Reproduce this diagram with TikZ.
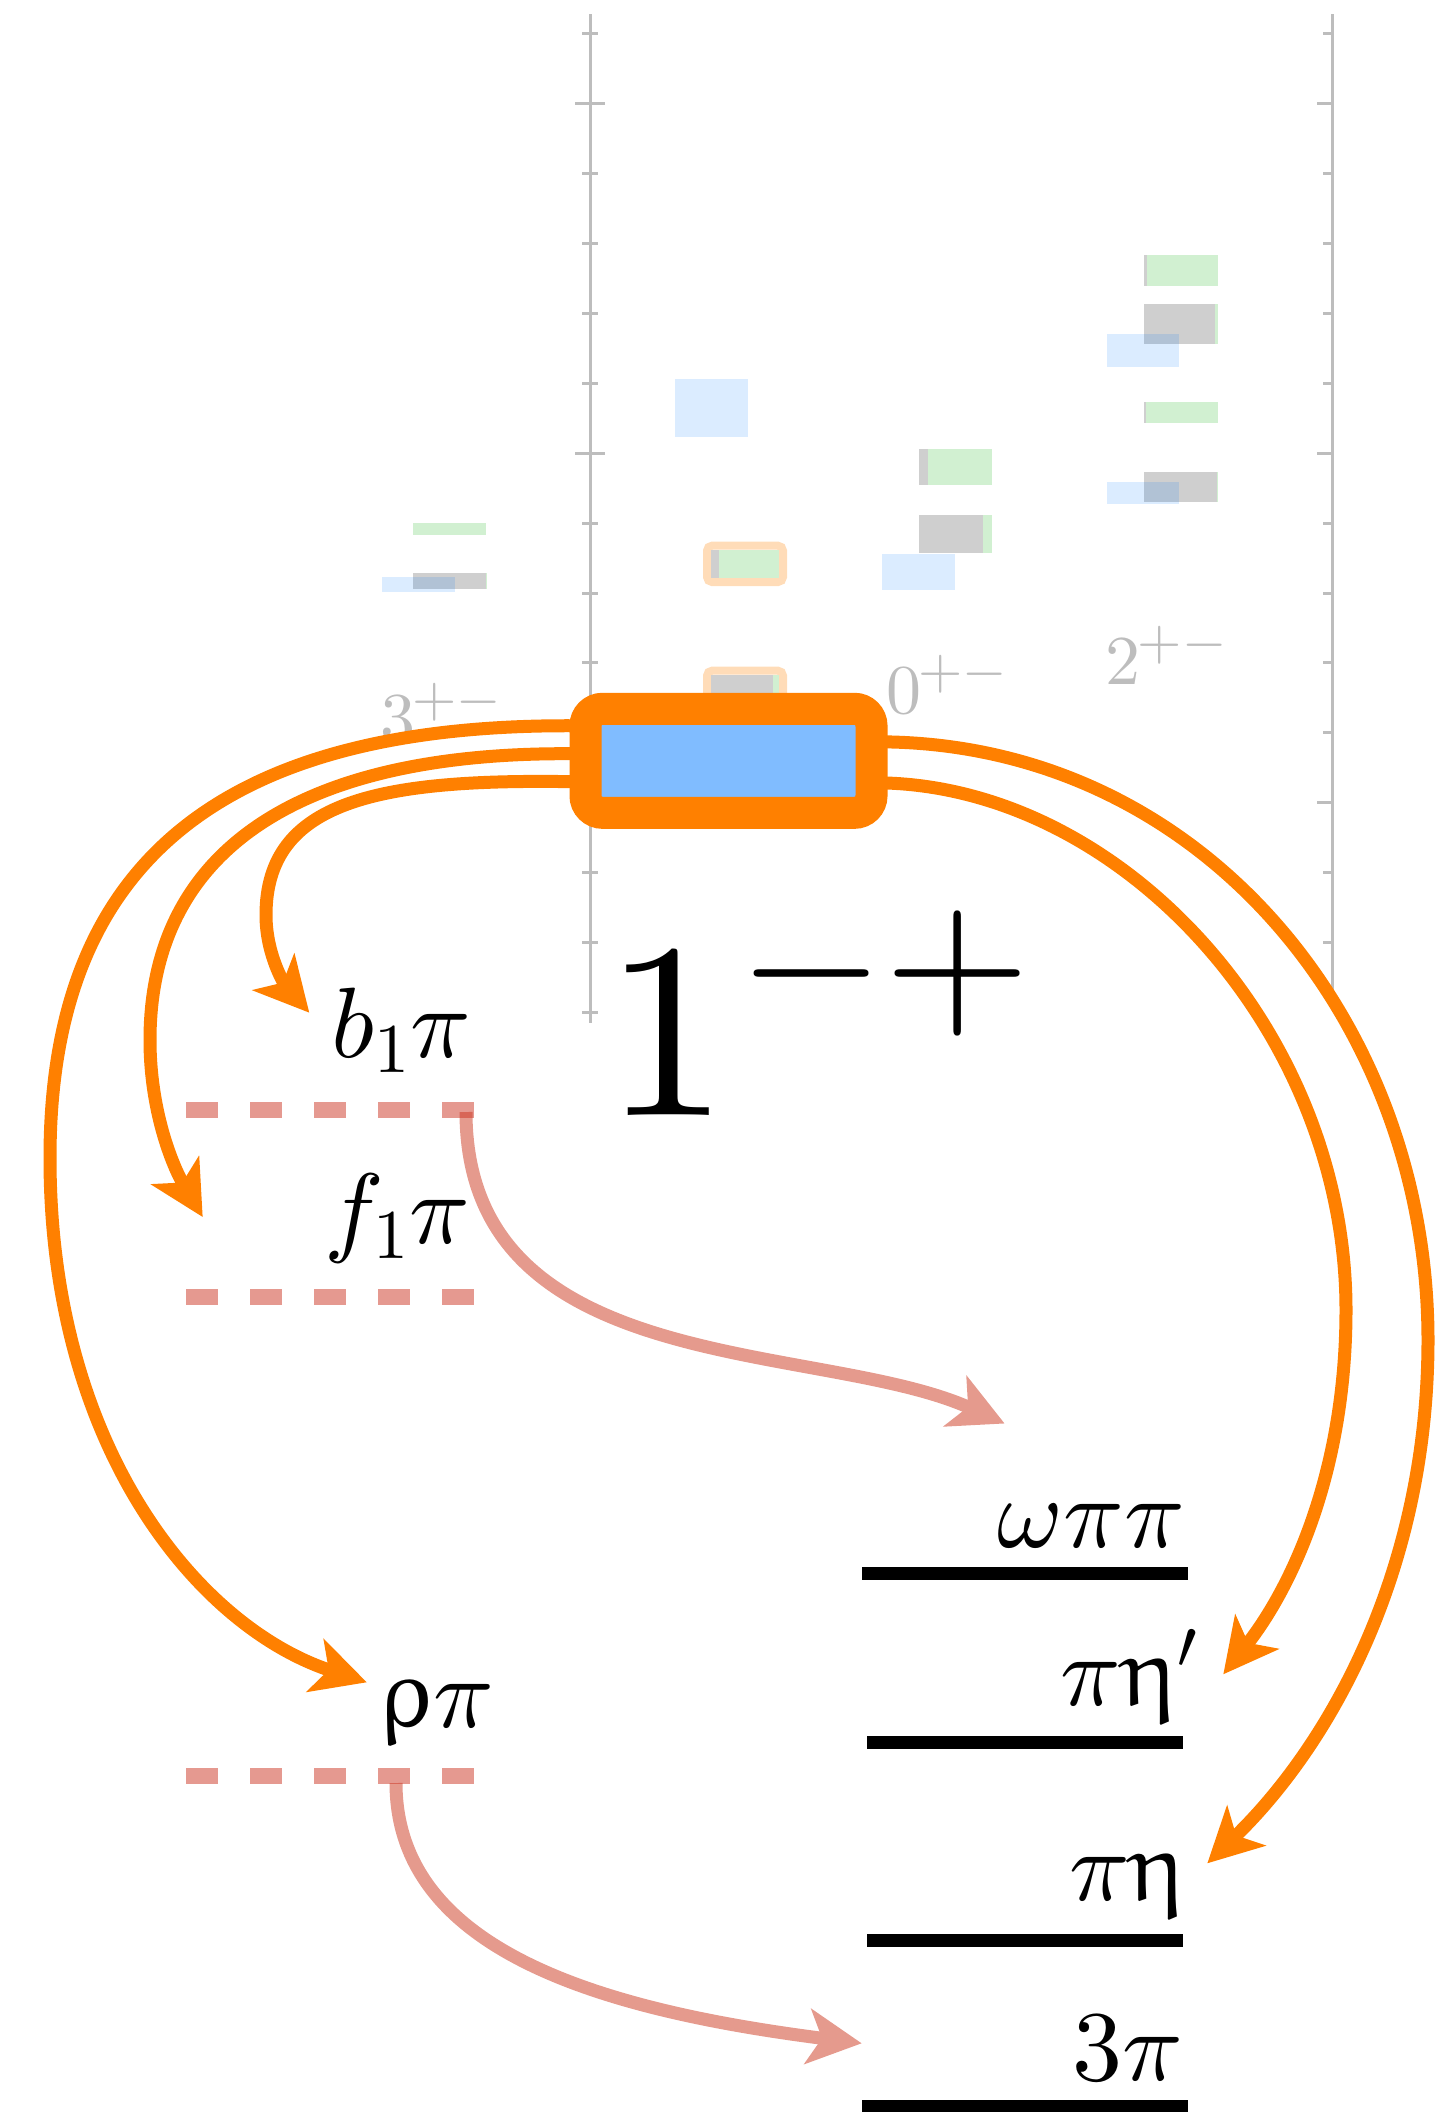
\documentclass[tikz,border=0pt]{standalone}
\DeclareFontShape{OT1}{cmr}{m}{n}{<-> cmr10}{}
\DeclareFontShape{OML}{cmm}{m}{it}{<-> cmmi10}{}
\DeclareFontShape{OMS}{cmsy}{m}{n}{<-> cmsy10}{}
\DeclareFontShape{OMX}{cmex}{m}{n}{<-> cmex10}{}
\DeclareFontFamily{U}{eur}{\skewchar\font'177}
\DeclareFontShape{U}{eur}{m}{n}{<-> eurm10}{}
\DeclareSymbolFont{eulergreek}{U}{eur}{m}{n}
\DeclareMathSymbol{\myeta}{\mathord}{eulergreek}{"11}
\DeclareMathSymbol{\myrho}{\mathord}{eulergreek}{"1A}
\usetikzlibrary{arrows.meta,calc}
\definecolor{myorange}{RGB}{255,128,0}
\definecolor{boxblue}{RGB}{128,188,255}
\definecolor{lgreen}{RGB}{209,240,209}
\definecolor{lgray}{RGB}{207,207,207}
\definecolor{bluebase}{RGB}{0,120,255}
\definecolor{lorange}{RGB}{255,220,184}
\definecolor{salmonbase}{RGB}{204,51,34}
\definecolor{salmon}{RGB}{229,154,141}
\definecolor{axisgray}{RGB}{189,189,189}
\newcommand\biglab[1]{\fontsize{100}{120}\selectfont$#1$}
\newcommand\glab[2]{{\fontsize{70}{80}\selectfont$#1$}\kern-3pt\raisebox{24.5pt}{\fontsize{57}{60}\selectfont$#2$}}
\begin{document}
\begin{tikzpicture}[x=1pt,y=-1pt,
  axisline/.style={draw=axisgray,line width=3pt},
  lbluebar/.style={fill=bluebase,fill opacity=0.14},
  obox/.style={draw=lorange,line width=8pt,rounded corners=5pt},
  bigbox/.style={draw=myorange,fill=boxblue,line width=32pt,rounded corners=17pt,minimum width=286pt,minimum height=104pt,inner sep=0pt},
  glabel/.style={text=axisgray,inner sep=0pt,anchor=base west},
  mlabel/.style={inner sep=0pt,anchor=base east},
  level/.style={draw=black,line width=13pt},
  dashlev/.style={draw=salmonbase,draw opacity=0.5,line width=16pt,dash pattern=on 32pt off 32pt},
  oarrow/.style={draw=myorange,line width=13pt,-{Stealth[length=54pt,width=55pt,inset=14pt]}},
  sarrow/.style={draw=salmon,line width=13pt,-{Stealth[length=54pt,width=55pt,inset=14pt]}}
]
\useasboundingbox (0,0) rectangle (1441,2112);

% axes
\draw[axisline] (590,14) -- (590,1023);
\foreach \k in {0,2,3,4,5,7,8,9,10,12,13,14}
  \draw[axisline] (582,{33.5+69.94*\k}) -- (598,{33.5+69.94*\k});
\foreach \k in {1,6,11}
  \draw[axisline] (575,{33.5+69.94*\k}) -- (605,{33.5+69.94*\k});
\draw[axisline] (1332,14) -- (1332,1005);
\foreach \k in {0,2,3,4,5,7,8,9,10,12,13}
  \draw[axisline] (1323,{33.5+69.94*\k}) -- (1332,{33.5+69.94*\k});
\foreach \k in {1,6,11}
  \draw[axisline] (1317,{33.5+69.94*\k}) -- (1332,{33.5+69.94*\k});

% 3+- column
\fill[lgreen] (413,523) rectangle (486,534.5);
\fill[lgreen] (413,573) rectangle (487,588.6);
\fill[lgray] (413,573) rectangle (485.5,588.6);
\fill[lbluebar] (382,577) rectangle (455,592);
% 1-+ column
\fill[lbluebar] (675,378.8) rectangle (748,437);
\draw[obox] (707,545.7) rectangle (783,582);
\fill[lgray] (711,550) rectangle (779,578);
\fill[lgreen] (718.5,550) rectangle (779,578);
\draw[obox] (707,670.7) rectangle (783,707);
\fill[lgreen] (711,675) rectangle (779,703);
\fill[lgray] (711,675) rectangle (772.7,703);
% 0+- column
\fill[lgreen] (919,449) rectangle (992,485.3);
\fill[lgray] (919,449) rectangle (928.4,485.3);
\fill[lgreen] (919,515) rectangle (992,553.3);
\fill[lgray] (919,515) rectangle (983.3,553.3);
\fill[lbluebar] (882,553.7) rectangle (955,589.5);
% 2+- column
\fill[lgreen] (1144,254.8) rectangle (1218,285.6);
\fill[lgray] (1144,254.8) rectangle (1147,285.6);
\fill[lgreen] (1144,304) rectangle (1218,344.4);
\fill[lgray] (1144,304) rectangle (1215,344.4);
\fill[lbluebar] (1107,333.8) rectangle (1179,367.3);
\fill[lgreen] (1144,401.7) rectangle (1218,423.3);
\fill[lgray] (1144,401.7) rectangle (1146,423.3);
\fill[lgreen] (1144,472) rectangle (1218,502.3);
\fill[lgray] (1144,472) rectangle (1217,502.3);
\fill[lbluebar] (1107,482) rectangle (1179,503.7);

% gray JPC labels
\node[glabel] (l3) at (380,741) {\glab{3}{{+}{-}}};
\node[glabel] (l0) at (886,713) {\glab{0}{{+}{-}}};
\node[glabel] (l2) at (1105.5,684) {\glab{2}{{+}{-}}};

% main state
\node[bigbox] (st) at (728.5,760.8) {};
\node[inner sep=0pt,anchor=base west] (jpc) at (604,1115)
  {\fontsize{250}{290}\selectfont$1$\kern9pt\raisebox{94.6pt}{\fontsize{188}{200}\selectfont$-{+}$}};

% decay labels
\node[mlabel] (b1pi) at (471,1057) {\biglab{b_1\pi}};
\node[mlabel] (f1pi) at (470,1243) {\biglab{f_1\pi}};
\node[mlabel] (rhopi) at (494,1727) {\biglab{\myrho\pi}};
\node[mlabel] (ompipi) at (1185,1547) {\biglab{\omega\pi\pi}};
\node[mlabel] (pietap) at (1197,1705) {\biglab{\pi\myeta'}};
\node[mlabel] (pieta) at (1186,1900) {\biglab{\pi\myeta}};
\node[mlabel] (threepi) at (1183,2080) {\biglab{3\pi}};

% thresholds
\draw[level] (862,1573.3) -- (1188,1573.3);
\draw[level] (867,1742.7) -- (1183,1742.7);
\draw[level] (867,1940) -- (1183,1940);
\draw[level] (862,2106) -- (1188,2106);

% connector ends
\coordinate (sL1) at ($(st.west)+(10,-35)$);
\coordinate (sL2) at ($(st.west)+(10,-7)$);
\coordinate (sL3) at ($(st.west)+(10,21)$);
\coordinate (sR1) at ($(st.east)+(-10,-19)$);
\coordinate (sR2) at ($(st.east)+(-10,22)$);
\coordinate (tB) at (309.3,1012.7);
\coordinate (tF) at (202.7,1217);
\coordinate (tR) at (366.8,1682.3);
\coordinate (tE1) at (1223.3,1674.3);
\coordinate (tE) at (1207.3,1863.3);
\coordinate (tW) at (1004.6,1423.5);
\coordinate (t3) at (861.7,2043.3);
\coordinate (sB) at (466,1112);
\coordinate (sR) at (396,1783);

% orange decays
\draw[oarrow] (sL1) .. controls (190,722) and (50,890) .. (50,1158)
  .. controls (50,1450) and (200,1628) .. (tR);
\draw[oarrow] (sL2) .. controls (300,750) and (150,850) .. (150,1040)
  .. controls (150,1110) and (172,1165) .. (tF);
\draw[oarrow] (sL3) .. controls (380,778) and (266,800) .. (266,915)
  .. controls (266,955) and (285,985) .. (tB);
\draw[oarrow] (sR1) .. controls (1200,742) and (1428,1020) .. (1428,1340)
  .. controls (1428,1570) and (1330,1745) .. (tE);
\draw[oarrow] (sR2) .. controls (1120,785) and (1346,1030) .. (1346,1310)
  .. controls (1346,1475) and (1290,1590) .. (tE1);

% salmon decays
\draw[sarrow] (sB) .. controls (466,1380) and (820,1340) .. (tW);
\draw[sarrow] (sR) .. controls (396,1950) and (600,2010) .. (t3);

% isobar levels
\draw[dashlev] (186,1110) -- (474,1110);
\draw[dashlev] (186,1297) -- (474,1297);
\draw[dashlev] (186,1776) -- (474,1776);
\end{tikzpicture}
\end{document}
